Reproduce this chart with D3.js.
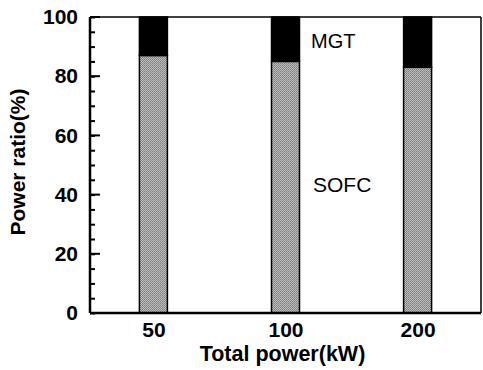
<!DOCTYPE html>
<html>
<head>
<meta charset="utf-8">
<script src="https://cdn.jsdelivr.net/npm/d3@7"></script>
<style>
  body { margin: 0; background: #fff; }
  svg { display: block; font-family: Arial, "Liberation Sans", sans-serif; }
</style>
</head>
<body>
<div id="chart"></div>
<script>
// data
const totals = ["50", "100", "200"];
const sofc = [87, 85, 83];
const mgt = [13, 15, 17];
const yTicks = [0, 20, 40, 60, 80, 100];

const W = 483, H = 370;
const margin = { top: 17, right: 2, bottom: 57, left: 90 };
const w = W - margin.left - margin.right;
const h = H - margin.top - margin.bottom;

const svg = d3.select("#chart").append("svg")
  .attr("width", W).attr("height", H);

// stipple look of the scanned grey
const defs = svg.append("defs");
const pat = defs.append("pattern")
  .attr("id", "dots").attr("width", 2).attr("height", 2)
  .attr("patternUnits", "userSpaceOnUse");
pat.append("rect").attr("width", 2).attr("height", 2).attr("fill", "#bdbdbd");
pat.append("rect").attr("width", 1).attr("height", 1).attr("fill", "#7c7c7c");
pat.append("rect").attr("x", 1).attr("y", 1).attr("width", 1).attr("height", 1).attr("fill", "#8c8c8c");

const g = svg.append("g").attr("transform", `translate(${margin.left},${margin.top})`);

const x = d3.scalePoint().domain(totals).range([0, w]).padding(0.48);
const y = d3.scaleLinear().domain([0, 100]).range([h, 0]);
const barW = 28;

// bars
const rows = totals.map((t, i) => ({ t, s: sofc[i], m: mgt[i] }));
const bar = g.selectAll(".bar").data(rows).join("g").attr("class", "bar");
bar.append("rect")
  .attr("x", d => x(d.t) - barW / 2)
  .attr("y", d => y(d.s))
  .attr("width", barW)
  .attr("height", d => y(0) - y(d.s))
  .attr("fill", "url(#dots)")
  .attr("stroke", "#000").attr("stroke-width", 1.5);
bar.append("rect")
  .attr("x", d => x(d.t) - barW / 2)
  .attr("y", d => y(d.s + d.m))
  .attr("width", barW)
  .attr("height", d => y(d.s) - y(d.s + d.m))
  .attr("fill", "#000")
  .attr("stroke", "#000").attr("stroke-width", 1.5);

// frame
g.append("line").attr("x1", 0).attr("x2", w).attr("y1", 0).attr("y2", 0)
  .attr("stroke", "#000").attr("stroke-width", 1.5);
g.append("line").attr("x1", w).attr("x2", w).attr("y1", 0).attr("y2", h)
  .attr("stroke", "#000").attr("stroke-width", 1.5);

// y axis, ticks inward
const yMinor = d3.axisRight(y).tickValues(d3.range(0, 101, 5)).tickSize(5).tickFormat("");
g.append("g").call(yMinor).call(a => a.select(".domain").remove())
  .selectAll("line").attr("stroke-width", 2);
const yAxis = d3.axisLeft(y).tickValues(yTicks).tickSize(0).tickPadding(12);
const ya = g.append("g").call(yAxis);
ya.select(".domain").remove();
ya.selectAll("text").attr("font-size", 21).attr("font-weight", "bold")
  .attr("font-family", "Arial, 'Liberation Sans', sans-serif").attr("fill", "#000");
g.append("g").selectAll("line").data(yTicks).join("line")
  .attr("x1", 0).attr("x2", 10).attr("y1", d => y(d)).attr("y2", d => y(d))
  .attr("stroke", "#000").attr("stroke-width", 2);
g.append("line").attr("x1", 0).attr("x2", 0).attr("y1", 0).attr("y2", h)
  .attr("stroke", "#000").attr("stroke-width", 2.5);

// x axis
const xAxis = d3.axisBottom(x).tickSize(0).tickPadding(9);
const xa = g.append("g").attr("transform", `translate(0,${h})`).call(xAxis);
xa.select(".domain").remove();
xa.selectAll("text").attr("font-size", 21).attr("font-weight", "bold")
  .attr("font-family", "Arial, 'Liberation Sans', sans-serif").attr("fill", "#000");
g.append("line").attr("x1", 0).attr("x2", w).attr("y1", h).attr("y2", h)
  .attr("stroke", "#000").attr("stroke-width", 2.5);

// labels
g.append("text").attr("x", 221).attr("y", 31)
  .attr("font-size", 20).text("MGT");
g.append("text").attr("x", 223).attr("y", 175)
  .attr("font-size", 21).text("SOFC");

svg.append("text")
  .attr("x", margin.left + w / 2 - 3).attr("y", 361)
  .attr("text-anchor", "middle").attr("font-size", 21.5).attr("font-weight", "bold")
  .text("Total power(kW)");
svg.append("text")
  .attr("transform", "translate(25,162) rotate(-90)")
  .attr("text-anchor", "middle").attr("font-size", 21).attr("font-weight", "bold")
  .text("Power ratio(%)");
</script>
</body>
</html>
